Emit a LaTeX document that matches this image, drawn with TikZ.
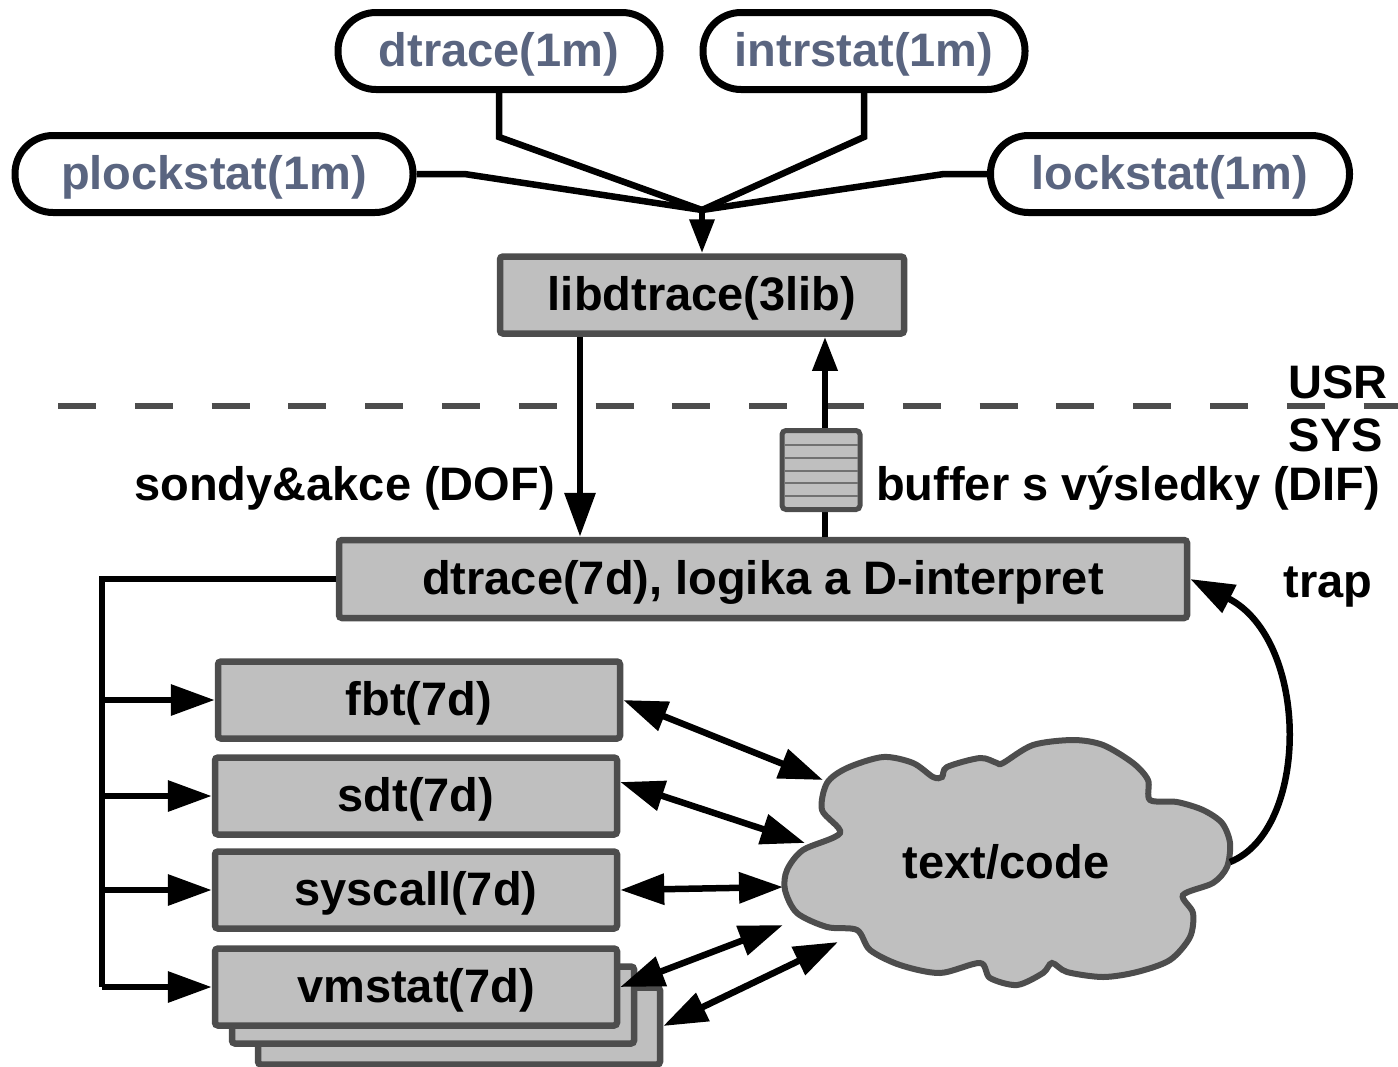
\documentclass[tikz,border=0pt]{standalone}
\usepackage{fontspec}
\setmainfont{Liberation Sans}
\usetikzlibrary{arrows.meta,positioning}
\definecolor{boxfill}{RGB}{191,191,191}
\definecolor{boxline}{RGB}{77,77,77}
\definecolor{toolblue}{RGB}{90,101,128}
\newcommand{\lbl}{\fontsize{47}{56}\selectfont\bfseries}

\begin{document}
\begin{tikzpicture}[x=1pt,y=-1pt,
  tool/.style={draw=black,line width=7pt,rounded corners=38pt,fill=white,
    minimum height=77pt,text=toolblue,font=\lbl,inner sep=0pt,
    text height=35pt,text depth=5pt},
  kbox/.style={draw=boxline,fill=boxfill,line width=6.5pt,rounded corners=3pt,
    minimum height=77pt,minimum width=402pt,font=\lbl,inner sep=0pt,
    text height=35pt,text depth=5pt},
  txt/.style={font=\lbl,inner sep=0pt},
  link/.style={line width=6.5pt},
  tipS/.style={-{Triangle[length=34pt,width=24pt]}},
  tipL/.style={-{Triangle[length=44pt,width=30pt]}},
  both/.style={{Triangle[length=44pt,width=30pt]}-{Triangle[length=44pt,width=30pt]}}]
\useasboundingbox (0,0) rectangle (1398,1066);

% user space tools
\node[tool,minimum width=322pt] (dtcmd) at (499,51) {dtrace(1m)};
\node[tool,minimum width=322pt] (intr) at (864,51) {intrstat(1m)};
\node[tool,minimum width=398pt] (plock) at (214,174) {plockstat(1m)};
\node[tool,minimum width=359pt] (lock) at (1170,174) {lockstat(1m)};
\node[kbox,minimum width=404pt] (lib) at (702,295) {libdtrace(3lib)};
\coordinate (hub) at (702,210);

\draw[link] (dtcmd.south) -- ++(0,44) -- (hub);
\draw[link] (intr.south) -- ++(0,44) -- (hub);
\draw[link] (plock.east) -- ++(48,0) -- (hub);
\draw[link] (lock.west) -- ++(-43,0) -- (hub);
\draw[link,tipS] (hub) -- (lib.north);

% USR / SYS boundary
\draw[boxline,line width=6.5pt,dash pattern=on 38pt off 38.8pt] (58,406) -- (1398,406);
\node[txt,anchor=base] (usr) at (1338,398) {USR};
\node[txt,anchor=base] (sys) at (1336,451) {SYS};

% kernel
\node[kbox,minimum width=848pt,minimum height=78pt] (drv) at (763,579) {dtrace(7d), logika a D-interpret};
\coordinate (dofx) at (580,0);
\coordinate (difx) at (825,0);
\draw[link,tipL] (lib.south -| dofx) -- (drv.north -| dofx);
\draw[link,tipS] (drv.north -| difx) -- (lib.south -| difx);
\node[draw=boxline,fill=boxfill,line width=5pt,rounded corners=4pt,
  minimum width=78pt,minimum height=79pt,inner sep=0pt] (buf) at (821,470) {};
\foreach \yy in {445,458,471,483,496}
  \draw[boxline!80,line width=1.5pt] (785,\yy) -- (858,\yy);
\node[txt,anchor=base east] (dof) at (555,500) {sondy\&akce (DOF)};
\node[txt,anchor=base west] (dif) at (876,500) {buffer s výsledky (DIF)};
\node[txt,anchor=base] (trap) at (1328,597) {trap};

% providers
\node[kbox] (vmc) at (459,1026) {};
\node[kbox] (vmb) at (433,1005) {};
\node[kbox] (fbt) at (419,700) {fbt(7d)};
\node[kbox] (sdt) at (416,796) {sdt(7d)};
\node[kbox] (sysc) at (416,890) {syscall(7d)};
\node[kbox] (vm) at (416,987) {vmstat(7d)};

\coordinate (bus) at (102,0);
\draw[link] (drv.west) -| (bus |- vm.west);
\foreach \m in {fbt,sdt,sysc,vm}
  \draw[link,tipL] (bus |- \m.west) -- (\m.west);

% text/code cloud
\draw[boxline,fill=boxfill,line width=6pt] plot[smooth cycle,tension=0.5] coordinates {
  (840,833) (822,810) (827,783) (847,768) (883,757) (913,763) (933,777) (942,777)
  (947,767) (980,758) (997,763) (1003,763) (1033,745) (1073,740) (1103,745) (1133,763)
  (1148,780) (1150,800) (1177,802) (1203,810) (1222,823) (1230,843) (1227,867) (1213,883)
  (1183,895) (1193,913) (1190,937) (1170,960) (1137,972) (1103,977) (1067,972) (1052,963)
  (1043,973) (1017,985) (990,978) (980,963) (940,973) (900,965) (870,950) (857,930)
  (827,927) (797,913) (785,890) (787,870) (803,850)};
\node[txt] (code) at (1006,862) {text/code};
\coordinate (c1) at (823,780);
\coordinate (c2) at (805,843);
\coordinate (c3) at (783,887);
\coordinate (c4) at (783,925);
\coordinate (c5) at (838,942);
\coordinate (cr) at (1230,862);

\draw[link,both] (fbt.east) -- (c1);
\draw[link,both] ([yshift=14pt]sdt.east) -- (c2);
\draw[link,both] (sysc.east) -- (c3);
\draw[link,both] (vm.east) -- (c4);
\draw[link,both] (vmc.east) -- (c5);
\draw[link,tipL] (cr) .. controls (1310,830) and (1310,640) .. (drv.east);
\end{tikzpicture}
\end{document}
